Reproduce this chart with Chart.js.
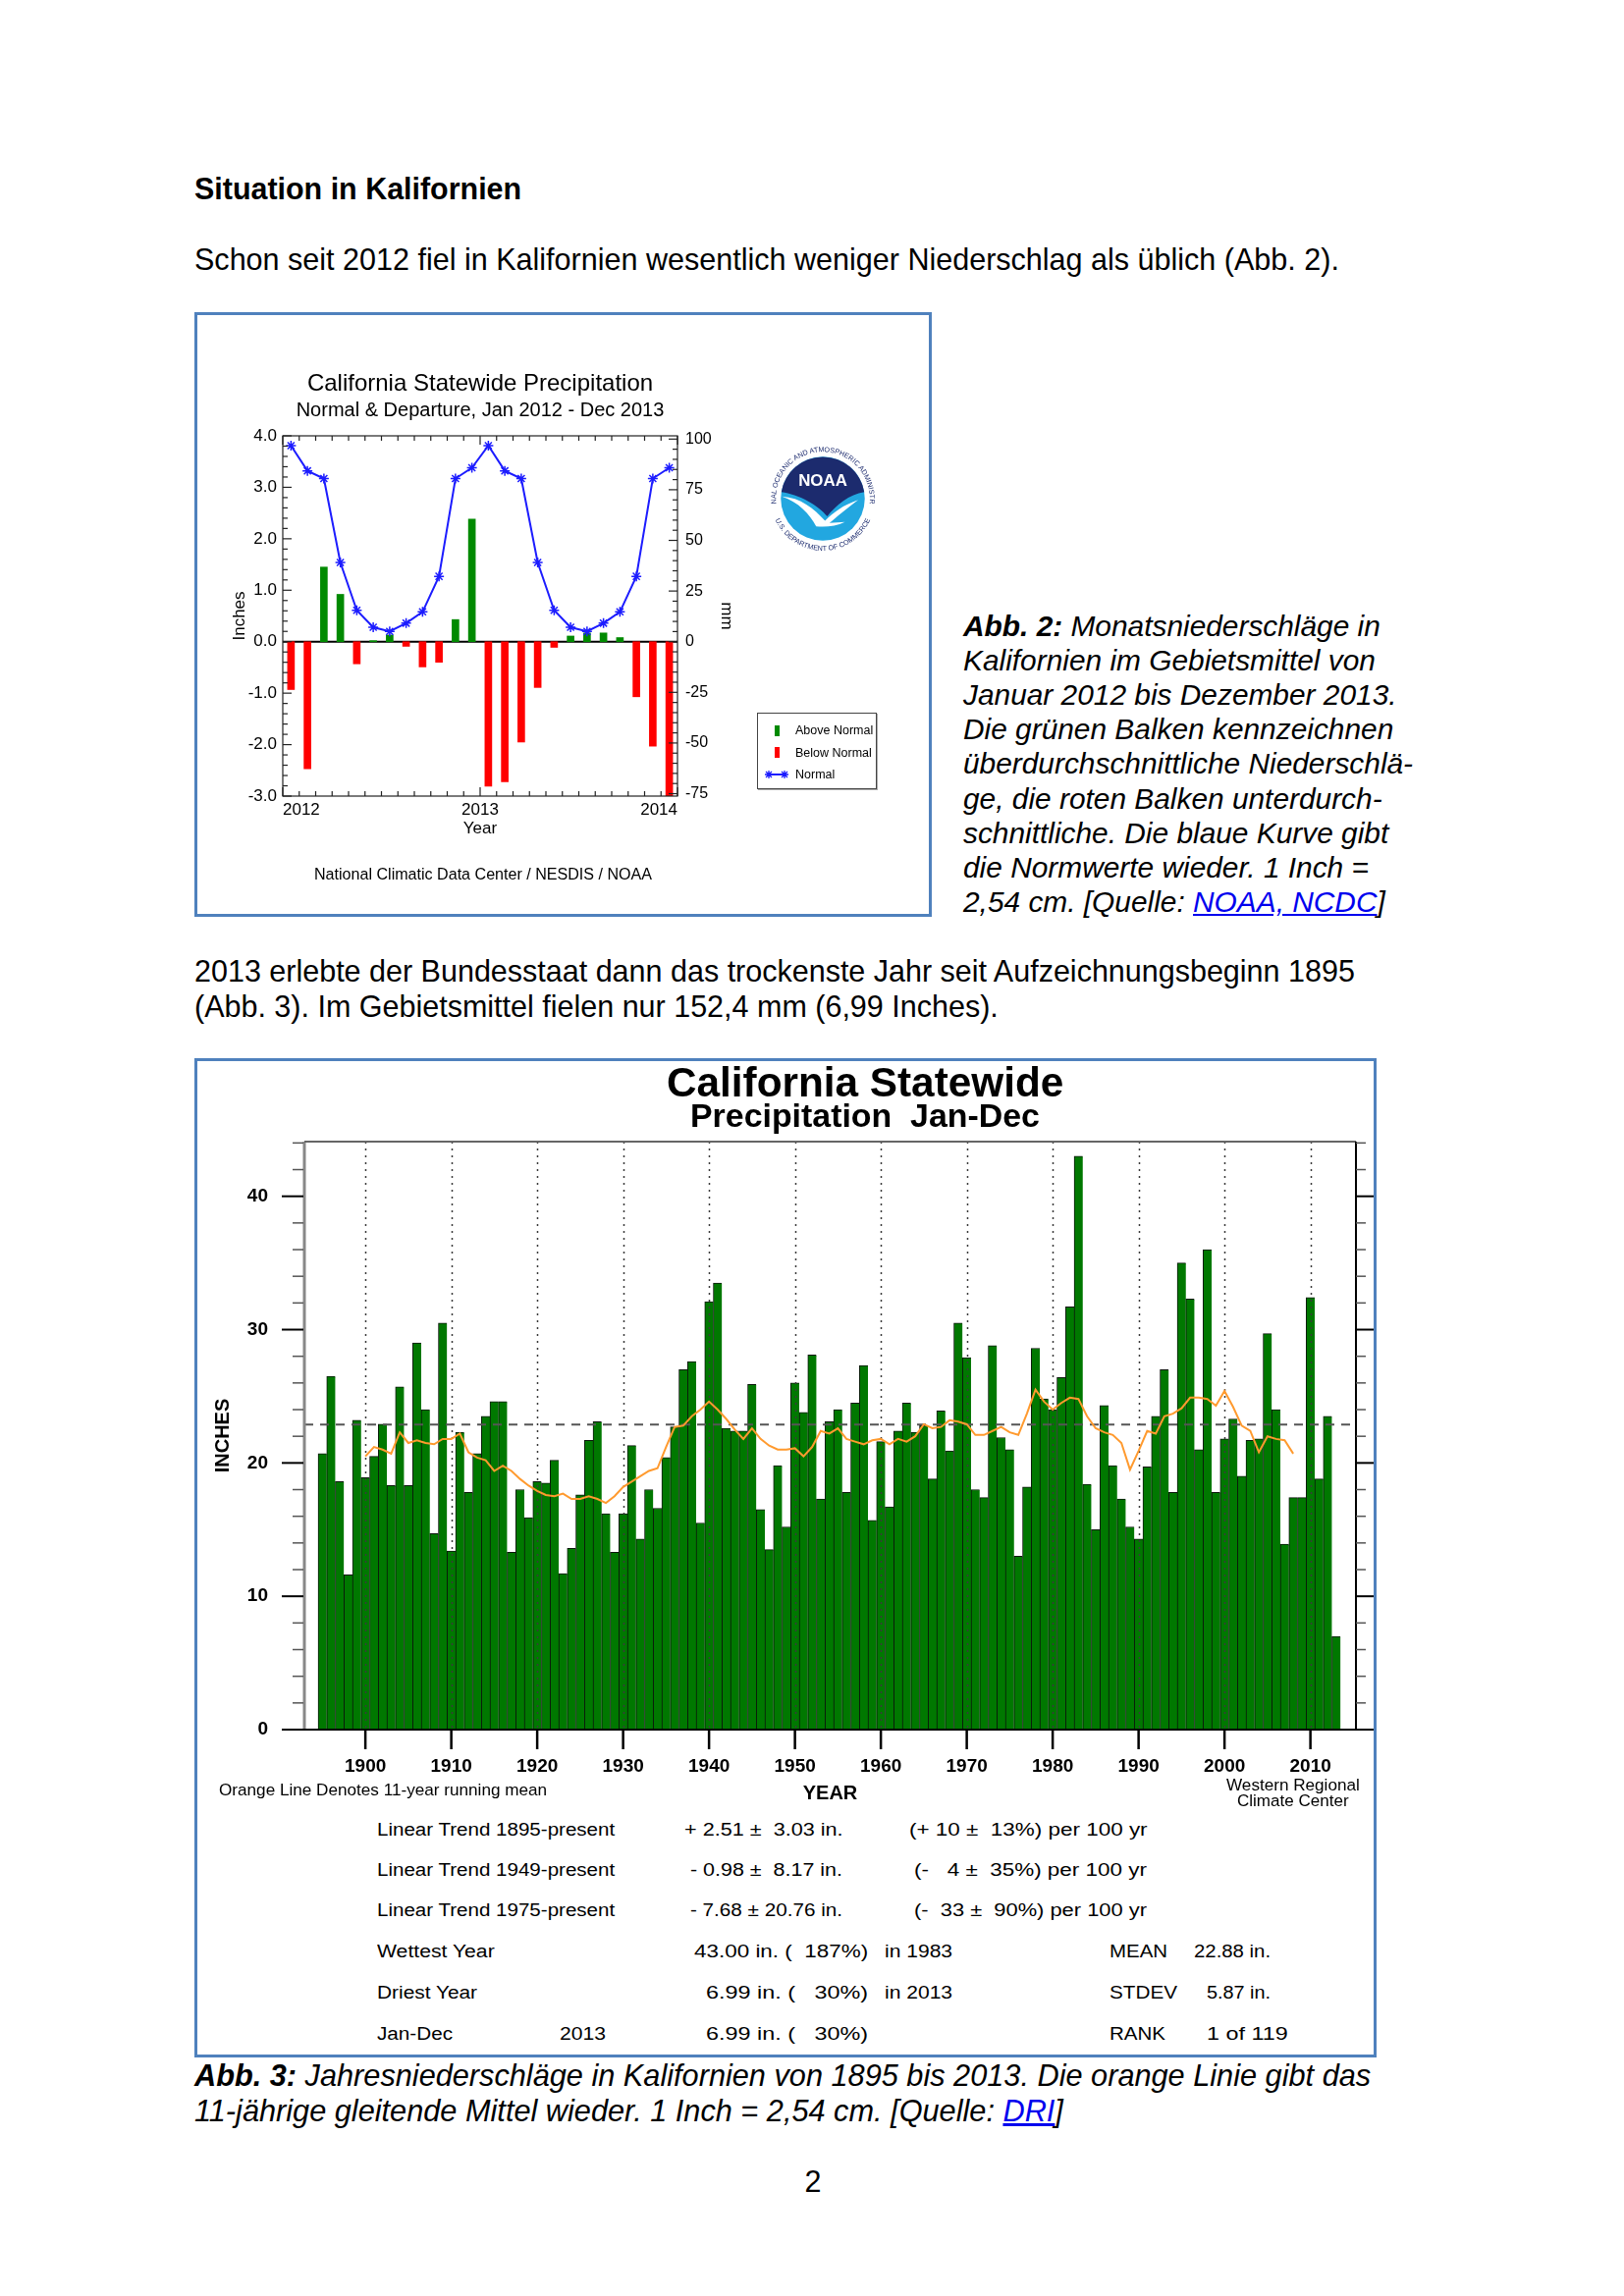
<!DOCTYPE html>
<html>
<head>
<meta charset="utf-8">
<script src="https://cdn.jsdelivr.net/npm/chart.js@4.4.0/dist/chart.umd.min.js"></script>
<style>
body{margin:0;background:#fff}
#page{position:relative;width:1654px;height:2339px;background:#fff;font-family:"Liberation Sans",Arial,sans-serif;color:#000;overflow:hidden}
.t{position:absolute;white-space:pre}
.frame{position:absolute;box-sizing:border-box;border:3px solid #4f81bd}
canvas{position:absolute}
a{color:#0000ee;text-decoration:underline}
.legend{position:absolute;box-sizing:border-box;border:1px solid #444;box-shadow:1px 1px 0 #aaa;background:#fff}
</style>
</head>
<body>
<div id="page">
  <div class="frame" style="left:198px;top:318px;width:751px;height:616px"></div>
  <div class="frame" style="left:198px;top:1078px;width:1204px;height:1018px"></div>
  <canvas id="c1" width="745" height="610" style="left:201px;top:321px"></canvas>
  <canvas id="c2" width="1198" height="770" style="left:201px;top:1081px"></canvas>
  <svg width="126" height="126" viewBox="-56 -56 112 112" style="position:absolute;left:775px;top:445px">
    <defs>
      <path id="ringTop" d="M -42 6.5 A 42.5 42.5 0 1 1 42 6.5"/>
      <path id="ringBot" d="M -43 19 A 47 47 0 0 0 43 19"/>
    </defs>
    <circle r="38" fill="#22a7e0"/>
    <path d="M -37.5 -6 A 38 38 0 0 1 37.5 -6 C 24 -4 12 6 4 16 C -4 6 -22 -4 -37.5 -6 Z" fill="#1c2b6e"/>
    <path d="M -37 -2 C -20 -1 -8 9 2 20 C 10 12 18 6 32 1 C 20 10 12 17 6 22 L 20 21 C 12 25 2 26 -6 25 C -12 14 -22 3 -37 -2 Z" fill="#fff"/>
    <text x="0" y="-12" text-anchor="middle" font-family="Liberation Sans" font-weight="bold" font-size="15" fill="#fff">NOAA</text>
    <text font-size="6.4" fill="#1c2b6e" font-family="Liberation Sans"><textPath href="#ringTop" startOffset="50%" text-anchor="middle">NATIONAL OCEANIC AND ATMOSPHERIC ADMINISTRATION</textPath></text>
    <text font-size="6.4" fill="#1c2b6e" font-family="Liberation Sans"><textPath href="#ringBot" startOffset="50%" text-anchor="middle">U.S. DEPARTMENT OF COMMERCE</textPath></text>
  </svg>
</div>
<script>
// monthly chart, Jan 2012 - Dec 2013 (inches)
const firstMonthYear = 2012
const departures = [-0.93, -2.47, 1.45, 0.92, -0.43, 0.02, 0.13, -0.09, -0.49, -0.40, 0.43, 2.38,
                    -2.81, -2.72, -1.95, -0.89, -0.11, 0.11, 0.17, 0.17, 0.08, -1.07, -2.03, -3.0]
const normals = [3.81, 3.32, 3.17, 1.54, 0.61, 0.28, 0.20, 0.36, 0.58, 1.27, 3.17, 3.38,
                 3.81, 3.32, 3.17, 1.54, 0.61, 0.28, 0.20, 0.36, 0.58, 1.27, 3.17, 3.38]
const yearTicks1 = [2012, 2013, 2014]
const inchTicks1 = [-3, -2, -1, 0, 1, 2, 3, 4]
const mmTicks = [-75, -50, -25, 0, 25, 50, 75, 100]

// annual chart, 1895 - 2013 (inches)
const firstYear = 1895
const annualPrecip = [
  20.7, 26.5, 18.6, 11.6, 23.2,
  18.9, 20.5, 22.9, 18.3, 25.7, 18.3, 29.0, 24.0, 14.7, 30.5,
  13.4, 22.3, 17.8, 20.7, 23.5, 24.6, 24.6, 13.3, 18.0, 15.9,
  18.6, 18.5, 20.2, 11.7, 13.6, 17.6, 21.7, 23.1, 16.2, 13.3,
  16.2, 21.3, 14.3, 18.0, 16.6, 20.4, 22.7, 27.0, 27.6, 15.5,
  32.1, 33.5, 22.6, 22.4, 22.4, 25.9, 16.5, 13.5, 19.8, 15.2,
  26.0, 23.8, 28.1, 17.3, 23.1, 24.0, 17.8, 24.5, 27.3, 15.7,
  21.6, 16.7, 22.4, 24.5, 22.3, 22.8, 18.8, 23.9, 20.9, 30.5,
  27.9, 18.0, 17.4, 28.8, 21.9, 21.0, 13.0, 18.2, 28.6, 24.8,
  24.0, 26.4, 31.7, 43.0, 18.4, 15.0, 24.3, 19.8, 17.3, 15.2,
  14.3, 19.7, 23.5, 27.0, 17.8, 35.0, 32.3, 21.0, 36.0, 17.8,
  21.8, 23.3, 19.0, 21.7, 21.8, 29.7, 24.0, 13.9, 17.4, 17.4,
  32.4, 18.8, 23.5, 6.99]
const runningStart = 1900
const runningMean = [
  20.5, 21.2, 21.0, 20.7, 22.3, 21.5, 21.7, 21.5, 21.4, 21.8,
  21.8, 22.2, 20.8, 20.4, 20.2, 19.4, 19.8, 19.4, 18.8, 18.3,
  17.9, 17.6, 17.5, 17.7, 17.3, 17.3, 17.5, 17.3, 17.0, 17.5,
  18.2, 18.6, 19.0, 19.4, 19.6, 21.2, 22.7, 22.8, 23.5, 24.0,
  24.6, 24.0, 23.3, 22.5, 21.8, 22.6, 21.8, 21.3, 21.0, 21.0,
  21.1, 20.5, 21.2, 22.4, 22.2, 22.6, 21.8, 21.6, 21.4, 21.7,
  21.8, 21.4, 21.8, 21.6, 22.0, 22.9, 22.6, 22.7, 23.2, 23.1,
  22.9, 22.1, 22.1, 22.4, 22.7, 22.3, 22.1, 23.7, 25.5, 24.6,
  24.0, 24.5, 24.9, 24.8, 23.5, 22.6, 22.3, 22.1, 21.5, 19.5,
  20.9, 22.4, 22.2, 23.5, 23.7, 24.1, 24.9, 24.9, 24.8, 24.3,
  25.4, 24.2, 22.8, 22.4, 20.8, 22.0, 21.8, 21.7, 20.7]
const decadeTicks = [1900, 1910, 1920, 1930, 1940, 1950, 1960, 1970, 1980, 1990, 2000, 2010]
const inchTicks2 = [0, 10, 20, 30, 40]
const meanPrecip = 22.88

Chart.defaults.font.family = "'Liberation Sans', Arial, sans-serif"
Chart.defaults.color = '#000'

const page = document.getElementById('page')

// put a line of text; w fits font size to width, sx squeezes to width
function put(html, x, y, opts){
    const o = Object.assign({size: 30, align: 'left'}, opts)
    const d = document.createElement('div')
    d.className = 't'
    d.innerHTML = html
    d.style.fontSize = o.size + 'px'
    if (o.style) d.style.cssText += o.style
    page.appendChild(d)
    if (o.w){
        o.size = o.size * o.w / d.offsetWidth
        d.style.fontSize = o.size + 'px'
    }
    const lh = Math.round(o.size * 1.3)
    d.style.lineHeight = lh + 'px'
    let width = d.offsetWidth
    if (o.sx){
        d.style.transformOrigin = '0 50%'
        d.style.transform = 'scaleX(' + (o.sx / width) + ')'
        width = o.sx
    }
    d.style.left = (o.align == 'center' ? x - width / 2 : x) + 'px'
    d.style.top = (y - lh / 2) + 'px'
    return o.size
}

function line(ctx, x1, y1, x2, y2){
    ctx.beginPath()
    ctx.moveTo(x1, y1)
    ctx.lineTo(x2, y2)
    ctx.stroke()
}

// ---------- page text ----------
put('<b>Situation in Kalifornien</b>', 198, 192, {w: 333})
const bodySize = put('Schon seit 2012 fiel in Kalifornien wesentlich weniger Niederschlag als üblich (Abb. 2).', 198, 264, {w: 1167})

const cap2 = [
  '<b>Abb. 2:</b> Monatsniederschläge in',
  'Kalifornien im Gebietsmittel von',
  'Januar 2012 bis Dezember 2013.',
  'Die grünen Balken kennzeichnen',
  'überdurchschnittliche Niederschlä-',
  'ge, die roten Balken unterdurch-',
  'schnittliche. Die blaue Kurve gibt',
  'die Normwerte wieder. 1 Inch =',
  '2,54 cm. [Quelle: <a>NOAA, NCDC</a>]'
]
const cap2Size = put(cap2[4], 981, 637 + 4 * 35.2, {w: 458, style: 'font-style:italic'})
cap2.forEach((s, i) => { if (i != 4) put(s, 981, 637 + i * 35.2, {size: cap2Size, style: 'font-style:italic'}) })

const p2Size = put('2013 erlebte der Bundesstaat dann das trockenste Jahr seit Aufzeichnungsbeginn 1895', 198, 989, {w: 1183})
put('(Abb. 3). Im Gebietsmittel fielen nur 152,4 mm (6,99 Inches).', 198, 1025, {size: p2Size})

const c3Size = put('<b>Abb. 3:</b> Jahresniederschläge in Kalifornien von 1895 bis 2013. Die orange Linie gibt das', 198, 2115, {w: 1199, style: 'font-style:italic'})
put('11-jährige gleitende Mittel wieder. 1 Inch = 2,54 cm. [Quelle: <a>DRI</a>]', 198, 2151, {size: c3Size, style: 'font-style:italic'})

put('2', 828, 2222, {size: bodySize, align: 'center'})

// ---------- chart 1 ----------
const monthX = i => firstMonthYear + (i + 0.5) / 12
const aboveData = []
const belowData = []
departures.forEach((v, i) => {
    if (v >= 0) aboveData.push({x: monthX(i), y: v})
    else belowData.push({x: monthX(i), y: v})
})

const monthlyDecor = {
    id: 'monthlyDecor',
    beforeDatasetsDraw(chart){
        const {ctx, chartArea: a, scales: {y}} = chart
        ctx.save()
        ctx.strokeStyle = '#000'
        ctx.lineWidth = 2
        const py = y.getPixelForValue(0)
        line(ctx, a.left, py, a.right, py)
        ctx.restore()
    },
    afterDraw(chart){
        const {ctx, chartArea: a, scales: {x, y, y2}} = chart
        ctx.save()
        ctx.strokeStyle = '#222'
        ctx.lineWidth = 1.2
        ctx.strokeRect(a.left, a.top, a.right - a.left, a.bottom - a.top)
        for (let k = 0; k <= 35; k++){
            const v = -3 + k * 0.2
            const py = y.getPixelForValue(v)
            line(ctx, a.left, py, a.left + (k % 5 == 0 ? 9 : 5), py)
        }
        for (let k = 0; k <= 35; k++){
            const v = -75 + k * 5
            const py = y2.getPixelForValue(v)
            line(ctx, a.right, py, a.right - (k % 5 == 0 ? 9 : 5), py)
        }
        for (let k = 0; k <= 24; k++){
            const px = x.getPixelForValue(firstMonthYear + k / 12)
            const len = k % 12 == 0 ? 9 : 5
            line(ctx, px, a.bottom, px, a.bottom - len)
            line(ctx, px, a.top, px, a.top + len)
        }
        ctx.restore()
    }
}

const chart1 = new Chart(document.getElementById('c1'), {
    type: 'bar',
    data: {
        datasets: [
            {label: 'Above Normal', data: aboveData, backgroundColor: '#008a00', barThickness: 7, grouped: false, order: 2},
            {label: 'Below Normal', data: belowData, backgroundColor: '#ff0000', barThickness: 7, grouped: false, order: 2},
            {type: 'line', label: 'Normal', data: normals.map((v, i) => ({x: monthX(i), y: v})),
             borderColor: '#1c1cff', borderWidth: 2, pointStyle: 'star', pointRadius: 5,
             pointBorderColor: '#1c1cff', pointBorderWidth: 1.5, tension: 0, order: 1}
        ]
    },
    options: {
        responsive: false, animation: false, devicePixelRatio: 1, events: [],
        layout: {padding: {left: 0, right: 196, top: 0, bottom: 60}},
        plugins: {
            legend: {display: false}, tooltip: {enabled: false},
            title: {display: true, text: 'California Statewide Precipitation', fullSize: false,
                    font: {size: 24, weight: 'normal'}, color: '#000', padding: {top: 55.6, bottom: 0}},
            subtitle: {display: true, text: 'Normal & Departure, Jan 2012 - Dec 2013', fullSize: false,
                       font: {size: 20}, color: '#000', padding: {top: 0.6, bottom: 14}}
        },
        scales: {
            x: {type: 'linear', min: 2012, max: 2014, offset: false,
                afterBuildTicks: s => { s.ticks = yearTicks1.map(v => ({value: v})) },
                afterFit: s => { s.height = 60 },
                ticks: {callback: v => String(v), font: {size: 17}, padding: 4, maxRotation: 0, autoSkip: false, align: 'inner'},
                grid: {display: false, drawTicks: false, offset: false}, border: {display: false},
                title: {display: true, text: 'Year', font: {size: 17}, padding: {top: 0, bottom: 16}}},
            y: {position: 'left', min: -3, max: 4,
                afterBuildTicks: s => { s.ticks = inchTicks1.map(v => ({value: v})) },
                afterFit: s => { s.width = 87 },
                ticks: {callback: v => v.toFixed(1), font: {size: 17}, padding: 6},
                grid: {display: false, drawTicks: false}, border: {display: false},
                title: {display: true, text: 'Inches', font: {size: 17}, padding: {top: 33, bottom: 0}}},
            y2: {position: 'right', min: -76.2, max: 101.6,
                 afterBuildTicks: s => { s.ticks = mmTicks.map(v => ({value: v})) },
                 afterFit: s => { s.width = 60 },
                 ticks: {font: {size: 16}, padding: 8},
                 grid: {display: false, drawTicks: false}, border: {display: false},
                 title: {display: true, text: 'mm', font: {size: 17}, padding: {top: 0, bottom: 0}}}
        }
    },
    plugins: [monthlyDecor]
})

// legend box for chart 1, from the datasets
const legendBox = document.createElement('div')
legendBox.className = 'legend'
legendBox.style.cssText += 'left:771px;top:726px;width:122px;height:78px'
chart1.data.datasets.forEach((ds, i) => {
    const cy = 17 + i * 22.5
    let mark
    if (ds.type == 'line'){
        mark = '<svg style="position:absolute;left:7px;top:' + (cy - 6) + 'px" width="24" height="12">' +
               '<line x1="4" y1="6" x2="20" y2="6" stroke="' + ds.borderColor + '" stroke-width="2"/>' +
               [4, 20].map(cx => '<path d="M' + (cx - 4) + ' 6h8M' + cx + ' 2v8M' + (cx - 3) + ' 3l6 6M' + (cx + 3) + ' 3l-6 6" stroke="' + ds.borderColor + '" stroke-width="1.3"/>').join('') +
               '</svg>'
    } else {
        mark = '<div style="position:absolute;left:17px;top:' + (cy - 5.5) + 'px;width:5px;height:11px;background:' + ds.backgroundColor + '"></div>'
    }
    legendBox.innerHTML += mark + '<div style="position:absolute;left:38px;top:' + (cy - 8) + 'px;font-size:12.5px;line-height:16px;white-space:pre">' + ds.label + '</div>'
})
page.appendChild(legendBox)

put('National Climatic Data Center / NESDIS / NOAA', 492, 890, {w: 344, size: 16, align: 'center'})

// ---------- chart 2 ----------
const annualDecor = {
    id: 'annualDecor',
    beforeDatasetDraw(chart, args){
        if (args.index != 1) return
        const {ctx, chartArea: a, scales: {x, y}} = chart
        ctx.save()
        ctx.strokeStyle = '#3a3a3a'
        ctx.lineWidth = 1.5
        ctx.setLineDash([2, 5])
        decadeTicks.forEach(v => {
            const px = Math.round(x.getPixelForValue(v)) + 0.5
            line(ctx, px, a.top, px, a.bottom)
        })
        ctx.setLineDash([9, 7])
        ctx.strokeStyle = '#555'
        ctx.lineWidth = 2
        const py = y.getPixelForValue(meanPrecip)
        line(ctx, a.left, py, a.right, py)
        ctx.restore()
    },
    afterDraw(chart){
        const {ctx, chartArea: a, scales: {x, y}} = chart
        ctx.save()
        ctx.strokeStyle = '#888'
        ctx.lineWidth = 3
        line(ctx, a.left, a.top, a.left, a.bottom)
        ctx.strokeStyle = '#666'
        ctx.lineWidth = 2
        line(ctx, a.left, a.top, a.right, a.top)
        ctx.strokeStyle = '#000'
        line(ctx, a.right, a.top, a.right, a.bottom)
        line(ctx, a.left - 23, a.bottom, a.right, a.bottom)
        for (let v = 0; v <= 44; v += 2){
            const py = y.getPixelForValue(v)
            const major = v % 10 == 0
            ctx.strokeStyle = major ? '#000' : '#555'
            ctx.lineWidth = major ? 2 : 1.5
            line(ctx, a.left - (major ? 23 : 12), py, a.left - 1, py)
            line(ctx, a.right, py, a.right + (major ? 20 : 10), py)
        }
        ctx.strokeStyle = '#000'
        ctx.lineWidth = 2.5
        decadeTicks.forEach(v => {
            const px = x.getPixelForValue(v)
            line(ctx, px, a.bottom, px, a.bottom + 20)
        })
        ctx.restore()
    }
}

new Chart(document.getElementById('c2'), {
    type: 'bar',
    data: {
        datasets: [
            {label: 'Jan-Dec', data: annualPrecip.map((v, i) => ({x: firstYear + i, y: v})),
             backgroundColor: '#007800', borderColor: '#0b160b',
             borderWidth: {left: 1, top: 1, right: 0, bottom: 0}, borderSkipped: false,
             barPercentage: 1, categoryPercentage: 1, order: 2},
            {type: 'line', label: '11-year running mean', data: runningMean.map((v, i) => ({x: runningStart + i, y: v})),
             borderColor: '#ff9a2e', borderWidth: 2, pointRadius: 0, tension: 0, order: 1}
        ]
    },
    options: {
        responsive: false, animation: false, devicePixelRatio: 1, events: [],
        layout: {padding: {left: 0, right: 18, top: 82, bottom: 12}},
        plugins: {legend: {display: false}, tooltip: {enabled: false}},
        scales: {
            x: {type: 'linear', min: 1892.9, max: 2015.3, offset: false,
                afterBuildTicks: s => { s.ticks = decadeTicks.map(v => ({value: v})) },
                afterFit: s => { s.height = 77 },
                ticks: {callback: v => String(v), font: {size: 19, weight: 'bold'}, padding: 26, maxRotation: 0, autoSkip: false},
                grid: {display: false, drawTicks: false, offset: false}, border: {display: false},
                title: {display: true, text: 'YEAR', font: {size: 20, weight: 'bold'}, padding: {top: 0, bottom: 0}}},
            y: {min: 0, max: 44.1,
                afterBuildTicks: s => { s.ticks = inchTicks2.map(v => ({value: v})) },
                afterFit: s => { s.width = 109 },
                ticks: {font: {size: 19, weight: 'bold'}, padding: 37},
                grid: {display: false, drawTicks: false}, border: {display: false},
                title: {display: true, text: 'INCHES', font: {size: 20, weight: 'bold'}, padding: {top: 14, bottom: 0}}}
        }
    },
    plugins: [annualDecor]
})

put('<b>California Statewide</b>', 881, 1102, {w: 404, size: 40, align: 'center'})
put('<b>Precipitation  Jan-Dec</b>', 881, 1136, {w: 356, size: 32, align: 'center'})
put('Orange Line Denotes 11-year running mean', 223, 1823, {w: 334, size: 15})
put('Western Regional', 1317, 1818, {w: 136, size: 16, align: 'center'})
put('Climate Center', 1317, 1835, {w: 114, size: 16, align: 'center'})

// statistics table under chart 2: [x, width, text]
const statRows = [
  [1864, [[384, 242, 'Linear Trend 1895-present'], [697, 161, '+ 2.51 ±  3.03 in.'], [926, 242, '(+ 10 ±  13%) per 100 yr']]],
  [1905, [[384, 242, 'Linear Trend 1949-present'], [703, 155, '- 0.98 ±  8.17 in.'], [931, 237, '(-   4 ±  35%) per 100 yr']]],
  [1946, [[384, 242, 'Linear Trend 1975-present'], [703, 155, '- 7.68 ± 20.76 in.'], [931, 237, '(-  33 ±  90%) per 100 yr']]],
  [1988, [[384, 120, 'Wettest Year'], [707, 177, '43.00 in. (  187%)'], [901, 69, 'in 1983'], [1130, 59, 'MEAN'], [1216, 78, '22.88 in.']]],
  [2030, [[384, 102, 'Driest Year'], [719, 165, '6.99 in. (   30%)'], [901, 69, 'in 2013'], [1130, 69, 'STDEV'], [1229, 65, '5.87 in.']]],
  [2072, [[384, 77, 'Jan-Dec'], [570, 47, '2013'], [719, 165, '6.99 in. (   30%)'], [1130, 57, 'RANK'], [1229, 83, '1 of 119']]]
]
statRows.forEach(([y, cells]) => {
    cells.forEach(([x, w, s]) => put(s, x, y, {size: 18, sx: w}))
})
</script>
</body>
</html>
